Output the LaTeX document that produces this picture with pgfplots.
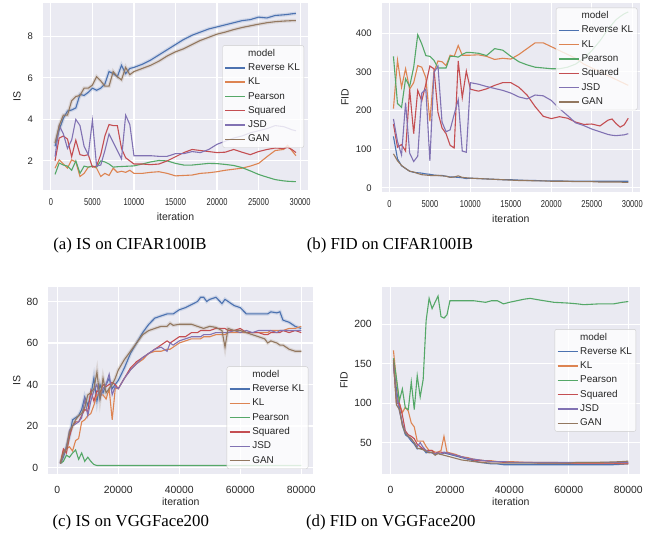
\documentclass[border=0pt]{standalone}
\usepackage{fontspec}
\setmainfont{Liberation Sans}
\newfontfamily\capfont{Liberation Serif}
\usepackage{graphicx}
\usepackage{pgfplots}
\usepackage{pgfplotstable}
\pgfplotsset{compat=1.18}

\definecolor{sbblue}{HTML}{4C72B0}
\definecolor{sborange}{HTML}{DD8452}
\definecolor{sbgreen}{HTML}{55A868}
\definecolor{sbred}{HTML}{C44E52}
\definecolor{sbpurple}{HTML}{8172B3}
\definecolor{sbbrown}{HTML}{937860}
\definecolor{sbbg}{HTML}{EAEAF2}
\definecolor{sbtext}{HTML}{262626}
\definecolor{sbframe}{HTML}{CCCCCC}

% IS on CIFAR100IB
\pgfplotstableread{
x rkl kl pe sq jsd gan
500 2.70 1.65 1.35 2.00 2.20 2.85
1000 3.50 2.05 1.90 3.10 3.70 3.70
1500 4.05 1.85 1.80 3.20 3.30 4.20
2000 4.40 1.65 1.75 3.05 2.60 4.20
2500 4.45 2.05 1.55 2.20 3.00 4.90
3000 4.55 1.95 2.00 3.00 4.00 5.10
3500 5.20 1.25 1.40 2.30 3.70 5.15
4000 5.15 1.40 1.75 2.25 2.70 5.50
4500 5.30 1.70 1.70 2.30 2.30 5.50
5000 5.50 1.75 1.75 1.70 3.95 5.65
5500 5.40 1.65 1.70 1.75 1.75 6.05
6000 5.50 1.25 2.00 2.30 1.80 5.85
6500 5.70 1.40 1.95 3.20 2.50 5.60
7000 6.30 1.30 1.85 3.75 3.30 5.60
7500 6.20 1.65 1.70 3.70 2.90 6.30
8000 6.05 1.45 1.72 3.70 2.50 6.05
8500 6.60 1.50 1.73 2.60 2.10 5.90
9000 6.20 1.45 1.74 2.15 4.20 6.50
9500 6.45 1.55 1.75 2.00 3.75 6.15
10000 6.50 1.40 1.76 1.85 2.25 6.30
11000 6.65 1.40 1.85 1.85 2.25 6.45
12000 6.85 1.45 1.95 1.82 2.25 6.60
13000 7.10 1.48 2.02 1.85 2.22 6.80
14000 7.35 1.40 2.00 2.00 2.22 7.05
15000 7.60 1.28 1.88 2.20 2.35 7.25
16000 7.85 1.30 1.80 2.40 2.35 7.40
17000 8.05 1.32 1.80 2.55 2.45 7.60
18000 8.20 1.40 1.84 2.50 2.40 7.80
19000 8.35 1.43 1.88 2.45 2.55 7.95
20000 8.45 1.48 1.87 2.40 2.80 8.10
21000 8.55 1.55 1.83 2.42 2.95 8.20
22000 8.65 1.60 1.78 2.55 3.10 8.32
23000 8.75 1.65 1.68 2.42 3.20 8.42
24000 8.80 1.75 1.52 2.30 3.35 8.50
25000 8.92 1.88 1.35 2.45 3.45 8.58
26000 8.88 2.20 1.22 2.55 3.55 8.65
27000 9.00 2.50 1.10 2.62 3.70 8.70
28000 9.03 2.55 1.04 2.60 3.65 8.73
28500 9.05 2.75 1.02 2.65 3.58 8.74
29000 9.08 2.50 1.01 2.55 3.50 8.75
29500 9.10 2.25 1.00 2.40 3.45 8.75
}\tabA

% FID on CIFAR100IB
\pgfplotstableread{
x rkl kl pe sq jsd gan
500 133 205 340 165 178 88
1000 75 330 218 105 120 70
1500 57 260 208 112 85 58
2000 50 308 282 95 220 50
2500 43 255 262 255 90 43
3000 40 272 312 140 68 41
3500 39 316 396 252 82 37
4000 38 312 372 225 245 34
4500 36 285 342 268 255 33
5000 35 172 340 315 70 32
5500 33 300 330 308 298 32
6000 32 328 310 195 315 32
6500 32 326 310 155 170 31
7000 30 316 310 140 145 30
7500 28 343 340 110 150 27
8000 28 340 340 103 190 28
8500 27 368 338 328 228 31
9000 26 343 345 233 95 27
9500 24 343 350 302 92 26
10000 25 343 350 255 272 25
11000 24 344 348 250 268 24
12000 23 340 342 256 262 23
13000 22 332 360 265 257 22
14000 21 335 356 272 252 21
15000 21 333 340 272 245 20
16000 20 345 326 260 235 19
17000 19 360 318 240 230 19
18000 19 375 312 210 240 18
19000 18 375 310 185 238 18
20000 18 365 308 179 226 17
21000 18 355 308 184 205 17
22000 17 345 312 180 187 17
23000 17 335 320 170 168 16
24000 17 320 335 164 161 16
25000 17 310 355 165 152 16
26000 17 300 380 160 145 15
27000 17 290 410 175 138 15
27500 17 285 423 178 136 15
28000 17 280 435 166 135 15
28500 17 275 443 157 136 15
29000 17 270 450 163 137 14
29500 17 265 455 180 140 14
}\tabB

% IS on VGGFace200
\pgfplotstableread{
x rkl kl pe sq jsd gan
1000 2 2 2 2 2 2
2000 5 8 3 9 6 7
3000 10 9 6 7 10 9
4000 15 10 5 15 18 17
5000 23 8 7 20 20 20
6000 24 13 8.5 22 21 23
7000 25 14 4 22 22 25
8000 28 22 7 25 24 26
9000 34 23 3 28 33 29
10000 30 25 5 27 25 35
11000 35 26 3 37 32 36
12000 43 30 1.5 32 37 38
13000 32 35 1 37 40 46
14000 40 35 1 36 33 33
15000 36 35 1 40 38 43
16000 40 33 1 39 40 36
17000 43 38 1 40 45 38
18000 38 23 1 41 35 40
19000 40 38 1 40 39 43
20000 42 38 1 38 38 47
22000 48 43 1 43 43 52
24000 55 47 1 48 47 56
26000 60 50 1 51 50 60
28000 65 52 1 53 53 64
30000 69 55 1 55 55 66
32000 72 56 1 57 57 67
34000 73 56 1 59 58 68
36000 74 57 1 61 56 68
37000 74 57 1 60 60 69.5
38000 74 58 1 61 59 68.5
40000 76 60 1 63 61 69
42000 77 61 1 63 62 69
44000 78.5 62 1 65 63 69
46000 80 62 1 65 63 68
47000 82 62 1 66 63 67.5
48000 82 63 1 66 64 67
49000 80 63 1 66 64 67.5
50000 81 63 1 66 64 68
52000 82 64 1 67 65 67.5
54000 79 64 1 67 65 66
55000 81 64 1 67 65 58
56000 80 65 1 66 65 67
58000 78 65 1 66 66 66
60000 77 65 1 67 65 66
62000 74 65 1 65 66 65
64000 74 65 1 65 65 64
66000 74 65 1 65 66 63
68000 74 65 1 64 66 62
69000 74 65 1 64 66 60
70000 75 66 1 65 66 61
72000 74.5 66 1 65 65 60
73000 75 66 1 65 66 59
74000 71 66 1 66 66 59
76000 70 67 1 65 66 57
78000 68 67 1 66 66 56
80000 67 68 1 65 66 56
}\tabC

% FID on VGGFace200
\pgfplotstableread{
x rkl kl pe sq jsd gan
1000 150 167 157 152 148 155
2000 118 130 132 100 110 98
3000 95 100 103 100 90 92
4000 72 88 118 85 75 72
5000 60 95 94 65 63 62
6000 57 90 92 60 58 58
7000 52 75 127 58 54 55
8000 48 70 92 55 50 50
9000 42 52 135 48 45 43
10000 43 52 108 45 50 42
11000 42 52 130 42 44 41
12000 37 45 205 40 40 39
13000 38 40 233 40 38 37
14000 37 40 220 40 37 38
15000 35 38 228 36 36 34
16000 37 38 236 38 37 36
17000 35 40 210 38 35 35
18000 37 58 208 37 38 34
19000 36 38 212 37 37 33
20000 35 37 230 36 36 32
22000 33 35 230 34 34 30
24000 31 32 230 32 32 28
26000 29 31 230 30 30 27
28000 27 29 230 28 29 26
30000 25 28 229 27 28 25
32000 24 27 228 27 27 24.5
34000 23 27 230 26 26 24
36000 23 26 230 26 26 24
38000 22 26 226 25 26 24
40000 22 26 228 25 25 24
45000 22 25 232 25 25 24
47000 22 25 233 25 25 24
50000 22 25 231 24 25 24
55000 22 25 228 24 25 24
60000 22 24 227 24 25 24
63000 22 24 226 24 25 25
65000 22 24 225 24 25 25
70000 22 24 226 24 25 25
75000 22 24 226 24 25 25.5
78000 22.5 23 228 24 25 26
80000 23 23 229 24 25 26.5
}\tabD

\pgfplotsset{
  sb/.style={
    scale only axis,
    axis background/.style={fill=sbbg},
    axis line style={draw=none},
    xmajorgrids, ymajorgrids,
    major grid style={white, line width=1.1pt},
    major tick length=0pt,
    scaled ticks=false,
    /pgf/number format/fixed,
    /pgf/number format/1000 sep={},
    /pgf/number format/assume math mode=true,
    tick label style={text=sbtext},
    label style={text=sbtext, font=\fontsize{10.5}{12}\selectfont},
    yticklabel style={xshift=-6.5pt},
    xlabel={iteration},
    legend cell align=left,
    legend image code/.code={\draw[##1, line width=1.4pt] (0pt,0pt) -- (20pt,0pt);},
    legend style={fill=white, fill opacity=0.8, text opacity=1, draw=sbframe,
      rounded corners=2pt, font=\fontsize{9.9}{11}\selectfont, text=sbtext,
      inner xsep=2pt, inner ysep=1pt, row sep=0pt,
      nodes={inner ysep=2.4pt, text height=7.3pt, text depth=2.2pt}},
    every axis plot/.append style={line width=1.1pt},
  },
  sbsmall/.style={
    yticklabel style={font=\fontsize{9.5}{11}\selectfont},
    xticklabel style={font=\fontsize{10}{11}\selectfont, yshift=-5pt},
    xticklabel={\scalebox{0.75}[1]{\pgfmathprintnumber{\tick}}},
    xmin=-950, xmax=30950, xtick={0,5000,...,30000},
  },
  sbbig/.style={
    yticklabel style={font=\fontsize{10.4}{12}\selectfont},
    xticklabel style={font=\fontsize{10.4}{12}\selectfont, yshift=-8.5pt},
    xmin=-2950, xmax=83950, xtick={0,20000,...,80000},
  },
}

\newcommand{\sixplots}[2]{%
  \addlegendimage{empty legend}\addlegendentry{model}
  \ifx#2y\addplot[sbblue, line width=3.5pt, opacity=0.18, forget plot] table[x=x,y=rkl]{#1};\fi
  \addplot[sbblue] table[x=x,y=rkl]{#1}; \addlegendentry{Reverse KL}
  \addplot[sborange] table[x=x,y=kl]{#1}; \addlegendentry{KL}
  \addplot[sbgreen] table[x=x,y=pe]{#1}; \addlegendentry{Pearson}
  \addplot[sbred] table[x=x,y=sq]{#1}; \addlegendentry{Squared}
  \addplot[sbpurple] table[x=x,y=jsd]{#1}; \addlegendentry{JSD}
  \ifx#2y\addplot[sbbrown, line width=3.5pt, opacity=0.18, forget plot] table[x=x,y=gan]{#1};\fi
  \addplot[sbbrown] table[x=x,y=gan]{#1}; \addlegendentry{GAN}
}

\begin{document}
\begin{tikzpicture}
\useasboundingbox (0pt,0pt) rectangle (655pt,-541pt);

% (a)
\begin{axis}[sb, sbsmall, at={(43pt,-3pt)}, anchor=north west,
  width=265pt, height=187pt,
  ymin=0.6, ymax=9.6, ytick={2,4,6,8}, ylabel={IS},
  ylabel style={at={(axis description cs:-0.098,0.5)}, anchor=center},
  xlabel style={at={(axis description cs:0.5,-0.144)}, anchor=center},
  legend style={at={(axis description cs:0.985,0.5)}, anchor=east}]
\sixplots{\tabA}{y}
\end{axis}

% (b)
\begin{axis}[sb, sbsmall, at={(381.7pt,-3pt)}, anchor=north west,
  width=258.3pt, height=188.7pt,
  ymin=-10, ymax=478, ytick={0,100,...,400}, ylabel={FID},
  ylabel style={at={(axis description cs:-0.142,0.5)}, anchor=center},
  xlabel style={at={(axis description cs:0.5,-0.143)}, anchor=center},
  legend style={at={(axis description cs:0.99,0.975)}, anchor=north east}]
\sixplots{\tabB}{n}
\end{axis}

% (c)
\begin{axis}[sb, sbbig, at={(48.3pt,-286.7pt)}, anchor=north west,
  width=265pt, height=187.3pt,
  ymin=-3.1, ymax=87.1, ytick={0,20,...,80}, ylabel={IS},
  ylabel style={at={(axis description cs:-0.119,0.5)}, anchor=center},
  xlabel style={at={(axis description cs:0.5,-0.148)}, anchor=center},
  legend style={at={(axis description cs:0.981,0.027)}, anchor=south east}]
\sixplots{\tabC}{y}
\end{axis}

% (d)
\begin{axis}[sb, sbbig, at={(381.7pt,-286.7pt)}, anchor=north west,
  width=258.3pt, height=187.3pt,
  ymin=10.2, ymax=247.8, ytick={50,100,150,200}, ylabel={FID},
  ylabel style={at={(axis description cs:-0.146,0.5)}, anchor=center},
  xlabel style={at={(axis description cs:0.5,-0.148)}, anchor=center},
  legend style={at={(axis description cs:0.985,0.5)}, anchor=east}]
\sixplots{\tabD}{n}
\end{axis}

\begin{scope}[every node/.style={font=\capfont\fontsize{16.8}{19}\selectfont, anchor=base, inner sep=0pt}]
\node at (130pt,-249.3pt) {(a) IS on CIFAR100IB};
\node at (390pt,-249.3pt) {(b) FID on CIFAR100IB};
\node at (130.8pt,-526.7pt) {(c) IS on VGGFace200};
\node at (390.8pt,-526.7pt) {(d) FID on VGGFace200};
\end{scope}
\end{tikzpicture}
\end{document}
